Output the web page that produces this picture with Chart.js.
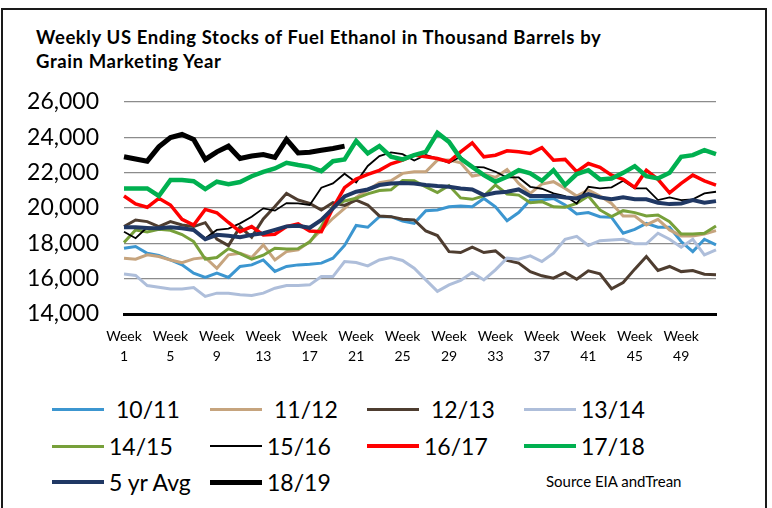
<!DOCTYPE html>
<html>
<head>
<meta charset="utf-8">
<script src="https://cdn.jsdelivr.net/npm/chart.js@4.4.1/dist/chart.umd.min.js"></script>
<style>
  body { margin: 0; background: #fff; font-family: Lato, "Open Sans", sans-serif; color: #000; }
  #frame { position: absolute; left: 1px; top: 8px; width: 762px; height: 530px; border: 2px solid #1a1a1a; border-bottom: none; }
  #title { position: absolute; left: 36px; top: 25px; font-weight: bold; font-size: 18.5px; letter-spacing: 0.6px; line-height: 24px; }
  #chartBox { position: absolute; left: 0; top: 0; width: 772px; height: 370px; }
  .item { position: absolute; display: flex; align-items: center; transform: translateY(-50%); font-size: 23px; white-space: nowrap; }
  .item .swatch { display: inline-block; width: 52px; }
  #source { position: absolute; left: 546px; top: 472px; font-size: 15px; }
</style>
</head>
<body>
<div id="frame"></div>
<div id="title">Weekly US Ending Stocks of Fuel Ethanol in Thousand Barrels by<br>Grain Marketing Year</div>
<div id="chartBox"><canvas id="stocks" width="772" height="370"></canvas></div>
<div id="legend"></div>
<div id="source">Source EIA andTrean</div>
<script>
const weeks = [1, 2, 3, 4, 5, 6, 7, 8, 9, 10, 11, 12, 13, 14, 15, 16, 17, 18, 19, 20, 21, 22, 23, 24, 25, 26,
  27, 28, 29, 30, 31, 32, 33, 34, 35, 36, 37, 38, 39, 40, 41, 42, 43, 44, 45, 46, 47, 48, 49, 50, 51, 52];

const yTicks = [14000, 16000, 18000, 20000, 22000, 24000, 26000];

const s1011 = [17720, 17820, 17440, 17310, 17060, 16780, 16310, 16070, 16310, 16070,
  16690, 16780, 17060, 16410, 16690, 16780, 16820, 16880, 17160, 17880,
  19010, 18910, 19510, 19510, 19260, 19130, 19850, 19890, 20070, 20110,
  20070, 20540, 20070, 19280, 19740, 20450, 20450, 20540, 20170, 19660,
  19740, 19510, 19470, 18570, 18790, 19130, 18910, 18910, 18100, 17530, 18230, 17910];
const s1112 = [17160, 17100, 17350, 17250, 17060, 16900, 17120, 17200, 16590, 17350,
  17440, 17200, 17910, 17060, 17530, 17630, 18100, 18760, 19420, 19980,
  20600, 21020, 21430, 21540, 21960, 22050, 22050, 22710, 22710, 22560,
  21810, 21920, 21730, 22180, 21390, 20830, 21350, 21490, 21110, 20680,
  21020, 20680, 20260, 19550, 19550, 19040, 19360, 18760, 18420, 18420, 18530, 18720];
const s1213 = [18950, 19320, 19230, 18950, 19230, 19040, 18950, 19170, 18240, 17870,
  18930, 18350, 19380, 20080, 20830, 20450, 20260, 19890, 20300, 20150,
  20450, 20170, 19550, 19510, 19360, 19320, 18700, 18440, 17530, 17480,
  17780, 17480, 17570, 17030, 16880, 16400, 16160, 16030, 16350, 15970,
  16440, 16270, 15430, 15780, 16540, 17250, 16460, 16690, 16400, 16460, 16250, 16220];
const s1314 = [16260, 16180, 15610, 15510, 15410, 15420, 15500, 15000, 15180, 15180,
  15090, 15050, 15180, 15460, 15610, 15610, 15650, 16120, 16120, 16970,
  16910, 16720, 17060, 17200, 17030, 16590, 15930, 15280, 15650, 15900,
  16350, 15930, 16500, 17160, 17100, 17290, 16970, 17440, 18230, 18400,
  17880, 18150, 18190, 18230, 17970, 17970, 18570, 18230, 17780, 18230, 17350, 17630];
const s1415 = [18050, 18760, 18640, 18800, 18740, 18500, 18100, 17110, 17200, 17700,
  17420, 17100, 17330, 17720, 17680, 17700, 18070, 18950, 20100, 20400,
  20550, 20800, 20990, 21030, 21560, 21540, 21200, 20870, 21270, 20570,
  20490, 20680, 21300, 20790, 20730, 20300, 20360, 20070, 20040, 20260,
  20680, 19890, 19510, 19850, 19740, 19550, 19600, 19230, 18530, 18530, 18570, 18980];
const s1516 = [18660, 18290, 18910, 18850, 18910, 18850, 18760, 18290, 18760, 18830,
  19130, 19510, 19980, 19850, 20280, 20260, 20170, 21150, 21390, 21940,
  21450, 22380, 22940, 23150, 23050, 22690, 23000, 22800, 22560, 22900,
  22330, 22300, 22050, 21730, 21730, 21200, 21090, 20830, 20680, 20260,
  21200, 21110, 21170, 21540, 21110, 21110, 20450, 20600, 20450, 20490, 20830, 20920];
const s1617 = [20680, 20230, 20040, 20550, 20170, 19360, 19040, 19920, 19730, 19180,
  18660, 18950, 18480, 18510, 18950, 19100, 18700, 18660, 20000, 21150,
  21640, 21900, 22130, 22500, 22710, 23000, 22900, 22800, 22620, 23180,
  23690, 22900, 22990, 23240, 23180, 23090, 23420, 22710, 22750, 22050,
  22520, 22300, 21860, 21620, 21170, 22140, 21620, 20860, 21390, 21860, 21540, 21300];
const s1718 = [21110, 21110, 21110, 20680, 21580, 21580, 21520, 21070, 21490, 21350,
  21470, 21800, 22050, 22240, 22560, 22430, 22330, 22090, 22650, 22750,
  23800, 23090, 23500, 22900, 22750, 22990, 23180, 24250, 23740, 22800,
  22330, 21860, 21490, 21770, 22140, 21960, 21540, 22140, 21300, 21920,
  22140, 21620, 21670, 21990, 22370, 21800, 21670, 21990, 22900, 22990, 23270, 23050];
const avg5 = [18910, 18910, 18870, 18850, 18910, 18850, 18760, 18230, 18480, 18430,
  18350, 18480, 18570, 18760, 18960, 19000, 18880, 19320, 19980, 20650,
  20920, 21050, 21300, 21390, 21410, 21390, 21300, 21240, 21200, 21110,
  21050, 20730, 20860, 20920, 21050, 20680, 20680, 20680, 20600, 20540,
  20790, 20600, 20490, 20600, 20490, 20490, 20300, 20220, 20260, 20450, 20300, 20390];
const s1819 = [22900, 22770, 22650, 23460, 23990, 24160, 23880, 22750, 23180, 23500,
  22800, 22940, 23030, 22860, 23880, 23120, 23160, 23270, 23370, 23500];

const seriesNames = ["10/11", "11/12", "12/13", "13/14", "14/15", "15/16", "16/17", "17/18", "5 yr Avg", "18/19"];
const seriesData = [s1011, s1112, s1213, s1314, s1415, s1516, s1617, s1718, avg5, s1819];

// styles
const seriesColors = ["#3C96D0", "#C6A47E", "#4E3D30", "#AEBEDA", "#77A03A", "#000000", "#FF0000", "#00B050", "#203864", "#000000"];
const seriesWidths = [3, 3, 3, 3, 3, 1.8, 3.5, 4.5, 4, 5];

// legend layout
const legendCols = [52, 210, 367, 524];
const legendRows = [409, 446, 482];

function buildLegend() {
  const box = document.getElementById("legend");
  seriesNames.forEach((name, i) => {
    const row = Math.floor(i / 4), col = i % 4;
    const item = document.createElement("div");
    item.className = "item";
    item.style.left = legendCols[col] + "px";
    item.style.top = legendRows[row] + "px";
    item.style.gap = (row === 0 && col < 3 ? 12 : 5) + "px";
    const sw = document.createElement("span");
    sw.className = "swatch";
    sw.style.height = seriesWidths[i] + "px";
    sw.style.background = seriesColors[i];
    const txt = document.createElement("span");
    txt.textContent = name;
    item.appendChild(sw);
    item.appendChild(txt);
    box.appendChild(item);
  });
}

function drawChart() {
  Chart.defaults.font.family = "Lato, 'Open Sans', sans-serif";
  Chart.defaults.color = "#000";
  const ctx = document.getElementById("stocks").getContext("2d");
  new Chart(ctx, {
    type: "line",
    data: {
      labels: weeks,
      datasets: seriesNames.map((name, i) => ({
        label: name,
        data: seriesData[i],
        borderColor: seriesColors[i],
        borderWidth: seriesWidths[i],
        pointRadius: 0,
        tension: 0,
        fill: false,
        order: seriesNames.length - i
      }))
    },
    options: {
      responsive: false,
      animation: false,
      devicePixelRatio: 1,
      layout: { padding: { left: 0, right: 56, top: 102, bottom: 0 } },
      plugins: { legend: { display: false }, title: { display: false }, tooltip: { enabled: false } },
      scales: {
        x: {
          offset: false,
          grid: { display: false },
          border: { display: true, color: "#000", width: 3 },
          afterFit: axis => { axis.height = 56; },
          ticks: {
            autoSkip: false,
            maxRotation: 0,
            padding: 4,
            font: { size: 14, lineHeight: 1.45 },
            callback: function (v, i) {
              return i % 4 === 0 ? ["Week", String(weeks[i])] : null;
            }
          }
        },
        y: {
          min: yTicks[0],
          max: yTicks[yTicks.length - 1],
          afterBuildTicks: axis => { axis.ticks = yTicks.map(v => ({ value: v })); },
          afterFit: axis => { axis.width = 124; },
          border: { display: false },
          grid: { color: "#8c8c8c", lineWidth: 1.3, drawTicks: false },
          ticks: {
            padding: 25,
            font: { size: 23 },
            callback: v => v.toLocaleString("en-US")
          }
        }
      }
    }
  });
}

buildLegend();
document.fonts.load("23px Lato").then(drawChart, drawChart);
</script>
</body>
</html>
